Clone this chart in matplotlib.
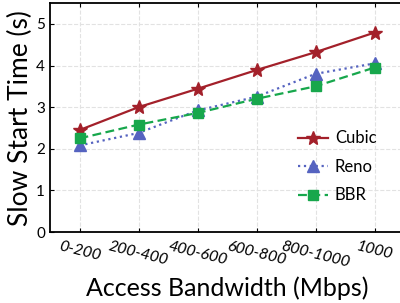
import matplotlib
matplotlib.use("Agg")
import matplotlib.pyplot as plt

categories = ["0-200", "200-400", "400-600", "600-800", "800-1000", "1000"]
cubic = [2.45, 3.00, 3.44, 3.89, 4.32, 4.79]
reno = [2.08, 2.38, 2.92, 3.25, 3.80, 4.05]
bbr = [2.25, 2.58, 2.86, 3.20, 3.50, 3.95]

plt.rcParams['font.family'] = ['Lato', 'DejaVu Sans']

fig = plt.figure(figsize=(4.0, 3.03), dpi=100)
ax = fig.add_axes([0.125, 0.234, 0.885, 0.756])

x = list(range(len(categories)))
ax.plot(x, cubic, color='#a3202a', linestyle='-', linewidth=1.6, marker='*',
        markersize=10, label='Cubic')
ax.plot(x, reno, color='#5563c0', linestyle=':', linewidth=1.6, marker='^',
        markersize=8, label='Reno')
ax.plot(x, bbr, color='#17a74c', linestyle='--', linewidth=1.6, marker='s',
        markersize=7, dashes=(4, 2), label='BBR')

ax.set_xlim(-0.5, 5.5)
ax.set_ylim(0, 5.5)
ax.set_xticks(x)
ax.set_xticklabels(categories, rotation=-14, fontstyle='italic', fontsize=11.5,
                   ha='center')
ax.set_yticks([0, 1, 2, 3, 4, 5])
ax.tick_params(axis='both', direction='in', top=True, right=True, length=3,
               labelsize=11)
ax.tick_params(axis='x', pad=5, labelsize=11.5)
ax.grid(True, linestyle='--', color='#e2e2e2', linewidth=0.8)
ax.set_axisbelow(True)
for s in ax.spines.values():
    s.set_linewidth(1.3)

ax.set_xlabel('Access Bandwidth (Mbps)', fontsize=18, labelpad=5)
ax.set_ylabel('Slow Start Time (s)', fontsize=19, labelpad=2)

leg = ax.legend(loc='lower right', bbox_to_anchor=(0.965, 0.06), frameon=False,
                fontsize=12, handlelength=1.8, labelspacing=0.75,
                handletextpad=0.4)

fig.savefig('out.png', dpi=100)
